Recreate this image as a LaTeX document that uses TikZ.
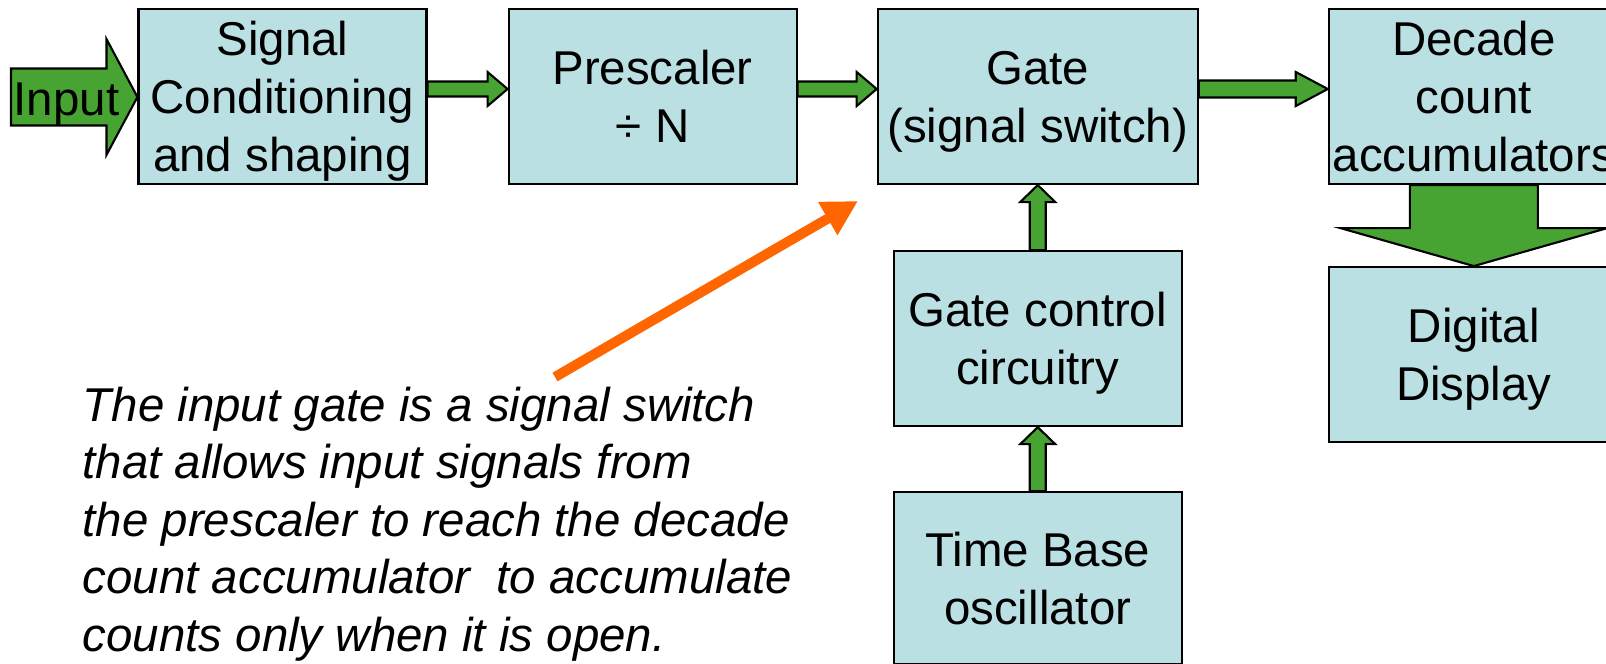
\documentclass[tikz,border=0pt]{standalone}
\usepackage{fontspec}
\setmainfont{Liberation Sans}
\usepackage{xcolor}
\usepackage{tikz}
\usetikzlibrary{positioning, calc, arrows.meta}
\definecolor{boxblue}{RGB}{187,224,227}
\definecolor{arrowgreen}{RGB}{72,164,50}
\definecolor{pointerorange}{RGB}{255,102,0}
\tikzstyle{block} = [rectangle, draw, fill=boxblue, line width=0.6pt, align=center, inner sep=0pt, text depth=0pt, minimum width=2.88cm, minimum height=1.75cm, font=\fontsize{13.5pt}{16.5pt}\selectfont]
\tikzstyle{fatarrow} = [fill=arrowgreen, draw=black, line width=0.6pt, line join=miter]
\tikzstyle{pointer} = [draw=pointerorange, line width=0.1cm, -{Triangle[length=0.35cm, width=0.36cm]}]

% block arrows: start, end, shaft half width, head half width, head length
\newcommand{\hblock}[5]{%
  \filldraw[fatarrow] let \p1=(#1), \p2=(#2) in
    ({\x1},{\y1+#3}) -- ({\x2-#5},{\y1+#3}) -- ({\x2-#5},{\y1+#4}) -- ({\x2},{\y1})
    -- ({\x2-#5},{\y1-#4}) -- ({\x2-#5},{\y1-#3}) -- ({\x1},{\y1-#3}) -- cycle;}
\newcommand{\vblock}[5]{%
  \filldraw[fatarrow] let \p1=(#1), \p2=(#2) in
    ({\x1-#3},{\y1}) -- ({\x1-#3},{\y2-(#5)}) -- ({\x1-#4},{\y2-(#5)}) -- ({\x1},{\y2})
    -- ({\x1+#4},{\y2-(#5)}) -- ({\x1+#3},{\y2-(#5)}) -- ({\x1+#3},{\y1}) -- cycle;}

\begin{document}
\begin{tikzpicture}
    \clip (0,0) rectangle (16.06,-6.63);

    % Top row of blocks
    \node[block] (cond) at (2.825,-0.965) {Signal\\Conditioning\\and shaping};
    \node[block, right=0.8cm of cond] (presc) {Prescaler\\÷ N};
    \node[block, right=0.79cm of presc, minimum width=3.2cm] (gate) {Gate\\(signal switch)};
    \node[block, right=1.29cm of gate, minimum width=2.9cm] (decade) {Decade\\count\\accumulators};

    % Blocks below
    \node[block, below=0.81cm of decade, minimum width=2.9cm] (disp) {Digital\\Display};
    \node[block, below=0.65cm of gate] (ctrl) {Gate control\\circuitry};
    \node[block, below=0.64cm of ctrl, minimum height=1.72cm] (timebase) {Time Base\\oscillator};

    % Input arrow
    \coordinate (inputstart) at (0.11,-0.97);
    \hblock{inputstart}{cond.west}{0.285cm}{0.58cm}{0.31cm}
    \node[font=\fontsize{13.5pt}{16.5pt}\selectfont, anchor=base west, inner sep=0pt] (input) at (0.13,-1.15) {Input};

    % Signal path arrows
    \hblock{$(cond.east)+(0,0.075)$}{presc.west}{0.075cm}{0.17cm}{0.2cm}
    \hblock{$(presc.east)+(0,0.075)$}{gate.west}{0.075cm}{0.17cm}{0.2cm}
    \hblock{$(gate.east)+(0,0.075)$}{decade.west}{0.085cm}{0.17cm}{0.32cm}
    \vblock{decade.south}{disp.north}{0.64cm}{1.335cm}{-0.38cm}

    % Control arrows
    \vblock{ctrl.north}{gate.south}{0.08cm}{0.175cm}{0.17cm}
    \vblock{timebase.north}{ctrl.south}{0.08cm}{0.175cm}{0.17cm}

    % Explanation
    \node[font=\itshape\fontsize{13.5pt}{16.35pt}\selectfont, align=left, anchor=base west, inner sep=0pt] (note) at (0.82,-6.51)
        {The input gate is a signal switch\\that allows input signals from\\the prescaler to reach the decade\\count accumulator~ to accumulate\\counts only when it is open.};
    \coordinate (ptrstart) at (5.55,-3.77);
    \coordinate (ptrtip) at (8.58,-2.01);
    \draw[pointer] (ptrstart) -- (ptrtip);

\end{tikzpicture}
\end{document}
